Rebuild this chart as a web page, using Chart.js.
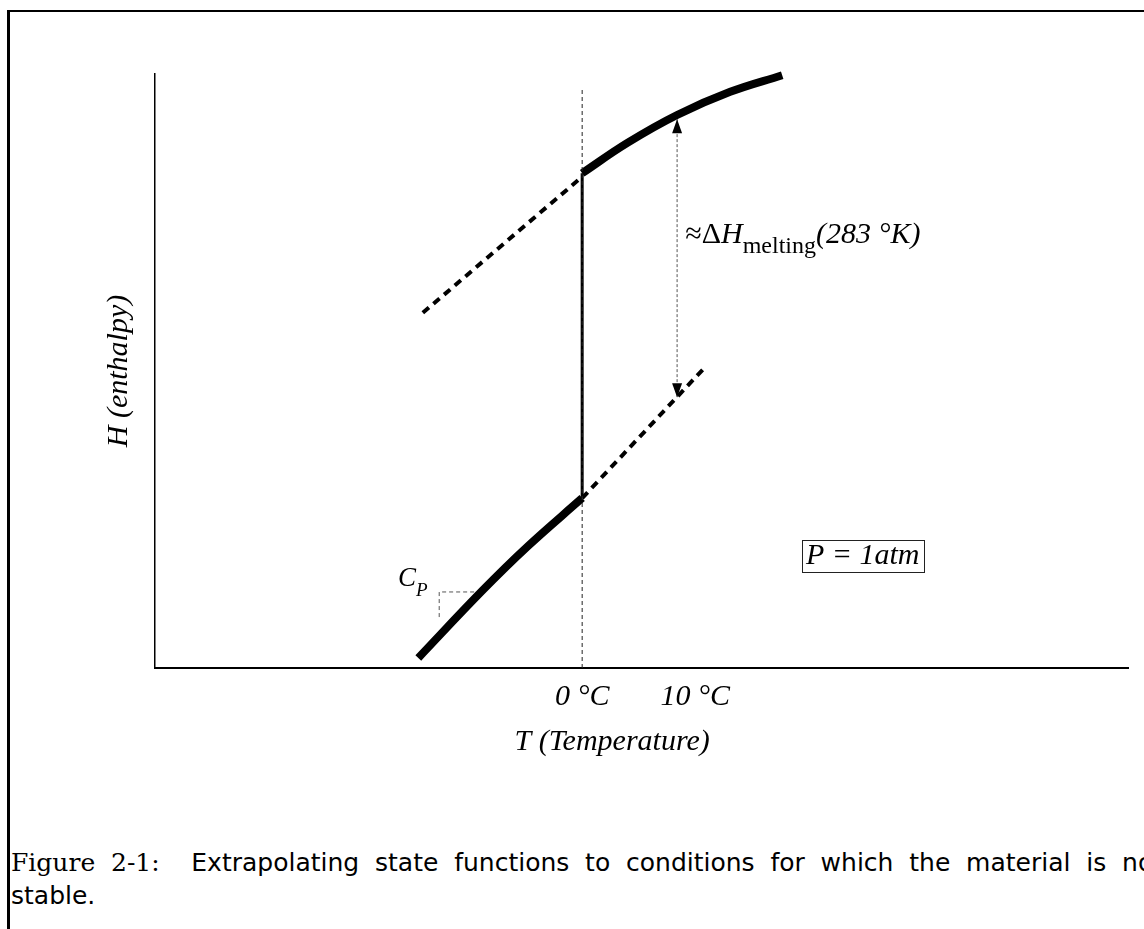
<!DOCTYPE html>
<html>
<head>
<meta charset="utf-8">
<script src="https://cdn.jsdelivr.net/npm/chart.js@4"></script>
<style>
  body { margin: 0; background: #fff; width: 1144px; height: 929px; overflow: hidden; position: relative; }
  #frame { position: absolute; left: 7px; top: 10px; width: 1200px; height: 1000px; border-top: 2px solid #000; border-left: 3px solid #000; }
  #chart { position: absolute; left: 0; top: 0; }
  #caption { position: absolute; left: 11px; top: 846px; font: 25px "DejaVu Sans"; line-height: 33px; white-space: nowrap; color: #000; }
  #caption .line1 { width: 1152px; text-align: justify; text-align-last: justify; }
  #caption .fig { font-family: "DejaVu Serif"; }
</style>
</head>
<body>
<div id="frame"></div>
<canvas id="chart" width="1144" height="800"></canvas>
<div id="caption"><div class="line1"><span class="fig">Figure 2-1:</span>&nbsp; Extrapolating state functions to conditions for which the material is not</div><div>stable.</div></div>
<script>
// temperature in °C, enthalpy in arbitrary units (0..100)
const iceT = [-14.5, -8.85, -4.87, 0];
const iceH = [1.7, 13.0, 20.4, 28.6];
const iceExtT = [0, 10.9];
const iceExtH = [28.6, 50.7];
const waterT = [0, 4, 8.4, 13.1, 17.7];
const waterH = [83.3, 88.4, 93.1, 97.0, 99.8];
const waterExtT = [-14.1, 0];
const waterExtH = [59.8, 82.7];
const meltT = [0, 0];
const meltH = [28.6, 83.3];
const zeroT = [0, 0];
const zeroH = [0, 97.8];
const arrowT = [8.4, 8.4];
const arrowH = [45.6, 92.4];
const cpT = [-9.56, -12.65, -12.65];
const cpH = [12.8, 12.8, 8.1];

const tickT = [0, 10];
const tickLabels = ['0 °C', '10 °C'];

const serif = '"Liberation Serif", "Times New Roman", serif';

const ds = (T, H, extra) => ({
    data: T.map((t, i) => ({ x: t, y: H[i] })),
    showLine: true,
    pointRadius: 0,
    borderColor: '#000',
    clip: false,
    ...extra
});

// text notes, anchored in data units
const notes = [
    { x: -16.3, y: 13.8, parts: [
        { t: 'C', font: 'italic 27px ' + serif },
        { t: 'P', font: 'italic 19px ' + serif, dy: 10 }
    ] },
    { x: 9.12, y: 71.5, parts: [
        { t: '≈Δ', font: '30px ' + serif },
        { t: 'H', font: 'italic 30px ' + serif },
        { t: 'melting', font: '24px ' + serif, dy: 10 },
        { t: '(283 °K)', font: 'italic 30px ' + serif }
    ] },
    { x: 19.8, y: 17.5, box: true, parts: [
        { t: 'P = 1atm', font: 'italic 30px ' + serif }
    ] },
    { x: 2.65, y: -13.8, center: true, parts: [
        { t: 'T (Temperature)', font: 'italic 30px ' + serif }
    ] }
];

const notesPlugin = {
    id: 'notes',
    afterDatasetsDraw(chart) {
        const { ctx, scales: { x, y } } = chart;
        ctx.save();
        ctx.fillStyle = '#000';

        // arrow heads of the ΔH arrow
        const ax = x.getPixelForValue(arrowT[0]);
        const tips = [[y.getPixelForValue(arrowH[1]), 1], [y.getPixelForValue(arrowH[0]), -1]];
        tips.forEach(([py, d]) => {
            ctx.beginPath();
            ctx.moveTo(ax, py);
            ctx.lineTo(ax - 5, py + d * 14);
            ctx.lineTo(ax + 5, py + d * 14);
            ctx.closePath();
            ctx.fill();
        });

        ctx.textBaseline = 'alphabetic';
        notes.forEach(n => {
            let px = x.getPixelForValue(n.x);
            const py = y.getPixelForValue(n.y);
            if (n.center) {
                let w = 0;
                n.parts.forEach(p => { ctx.font = p.font; w += ctx.measureText(p.t).width; });
                px -= w / 2;
            }
            let cx = px;
            n.parts.forEach(p => {
                ctx.font = p.font;
                ctx.fillText(p.t, cx, py + (p.dy || 0));
                cx += ctx.measureText(p.t).width;
            });
            if (n.box) {
                ctx.strokeStyle = '#222';
                ctx.lineWidth = 1;
                ctx.strokeRect(Math.round(px - 4) + 0.5, Math.round(py - 24) + 0.5, Math.round(cx - px + 8), 32);
            }
        });
        ctx.restore();
    }
};

const ctx = document.getElementById('chart').getContext('2d');
new Chart(ctx, {
    type: 'scatter',
    data: {
        datasets: [
            ds(zeroT, zeroH, { borderWidth: 1, borderColor: '#222', borderDash: [4, 3] }),
            ds(cpT, cpH, { borderWidth: 1, borderColor: '#555', borderDash: [4, 3] }),
            ds(arrowT, arrowH, { borderWidth: 1, borderColor: '#555', borderDash: [3, 2] }),
            ds(iceExtT, iceExtH, { borderWidth: 4, borderDash: [8, 6] }),
            ds(waterExtT, waterExtH, { borderWidth: 4, borderDash: [8, 6] }),
            ds(meltT, meltH, { borderWidth: 3 }),
            ds(iceT, iceH, { borderWidth: 8, tension: 0.4 }),
            ds(waterT, waterH, { borderWidth: 8, tension: 0.4 })
        ]
    },
    options: {
        responsive: false,
        animation: false,
        devicePixelRatio: 1,
        layout: { padding: { left: 101, top: 74, right: 16, bottom: 74 } },
        plugins: {
            legend: { display: false },
            tooltip: { enabled: false }
        },
        scales: {
            x: {
                type: 'linear',
                min: -37.8,
                max: 48.3,
                grid: { display: false, drawTicks: false },
                border: { color: '#000', width: 2 },
                afterBuildTicks: (scale) => {
                    scale.ticks = tickT.map(v => ({ value: v }));
                },
                ticks: {
                    padding: 11,
                    color: '#000',
                    autoSkip: false,
                    maxRotation: 0,
                    font: { family: serif, style: 'italic', size: 30 },
                    callback: (v, i) => tickLabels[i]
                }
            },
            y: {
                type: 'linear',
                min: 0,
                max: 100,
                grid: { display: false, drawTicks: false },
                border: { color: '#000', width: 1.5 },
                ticks: { display: false },
                title: {
                    display: true,
                    text: 'H (enthalpy)',
                    color: '#000',
                    font: { family: serif, style: 'italic', size: 30 },
                    padding: { top: 0, bottom: 18 }
                }
            }
        }
    },
    plugins: [notesPlugin]
});
</script>
</body>
</html>
